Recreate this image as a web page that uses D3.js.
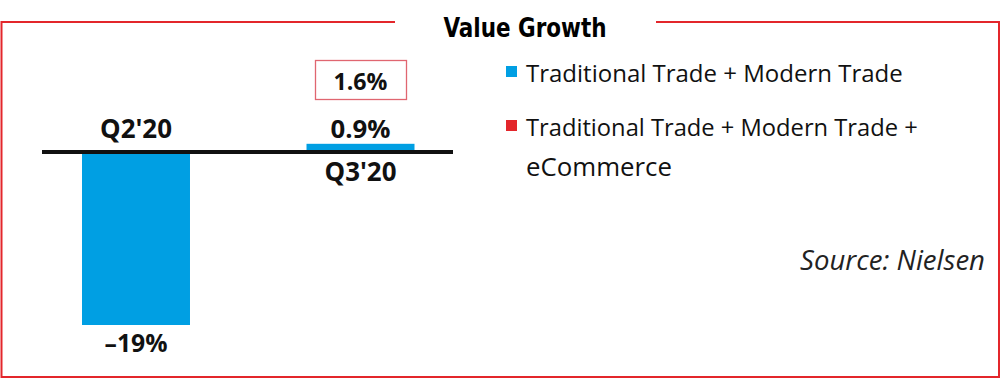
<!DOCTYPE html>
<html><head><meta charset="utf-8">
<script src="https://cdn.jsdelivr.net/npm/d3@7"></script>
<style>
html,body{margin:0;padding:0;background:#fff;}
text{font-family:"Open Sans","Noto Sans",sans-serif;}
</style></head>
<body>
<svg id="c" width="1002" height="379"></svg>
<script>
const categories = ["Q2'20", "Q3'20"];
const valuesTT_MT = [-19, 0.9];
const valuesWithEcom = [null, 1.6];
const valueLabels = ["\u201319%", "0.9%"];
const ecomLabels = [null, "1.6%"];
const legendLabels = [["Traditional Trade + Modern Trade"], ["Traditional Trade + Modern Trade +", "eCommerce"]];
const title = "Value Growth";
const source = "Source: Nielsen";

const blue = "#009FE3", red = "#E3262B";
const svg = d3.select("#c");

// fit helper
function fit(sel, target, base) {
  sel.each(function(){ const w=this.getComputedTextLength(); d3.select(this).style("font-size", (base*target/w)+"px"); });
}

// frame
svg.append("path")
  .attr("d", "M395,22 H1.5 V377 H999 V22 H656")
  .attr("fill","none").attr("stroke", red).attr("stroke-width", 2);

svg.append("text").text(title)
  .attr("x", 525).attr("y", 37).attr("text-anchor","middle")
  .style("font-family", '"Liberation Sans Narrow","DejaVu Sans Condensed",sans-serif')
  .style("font-weight","bold").style("font-size","26px")
  .attr("textLength", 163).attr("lengthAdjust","spacingAndGlyphs");

const x = d3.scaleBand().domain(categories).range([82, 414.5]).paddingInner(0.519).paddingOuter(0);
const y = d3.scaleLinear().domain([-19, 0]).range([325, 152]);

svg.selectAll("rect.bar").data(categories).join("rect")
  .attr("class","bar")
  .attr("x", d => x(d))
  .attr("width", x.bandwidth())
  .attr("y", (d,i) => Math.min(y(valuesTT_MT[i]), y(0)))
  .attr("height", (d,i) => Math.abs(y(valuesTT_MT[i]) - y(0)))
  .attr("fill", blue);

// baseline
svg.append("line").attr("x1", 42).attr("x2", 453).attr("y1", y(0)).attr("y2", y(0))
  .attr("stroke","#111").attr("stroke-width", 4);

const cx = categories.map(d => x(d) + x.bandwidth()/2);
const bold = sel => sel.style("font-weight","bold").style("font-size","25px").attr("text-anchor","middle").attr("fill","#111");

// category labels
svg.append("text").text(categories[0]).attr("x", cx[0]).attr("y", 138).call(bold).call(fit, 72, 25);
svg.append("text").text(categories[1]).attr("x", cx[1]).attr("y", 181).call(bold).call(fit, 72, 25);
// value labels
svg.append("text").text(valueLabels[0]).attr("x", cx[0]).attr("y", 352).call(bold).call(fit, 63, 25);
svg.append("text").text(valueLabels[1]).attr("x", cx[1]).attr("y", 138).call(bold).call(fit, 60, 25);

// ecom box
svg.append("rect").attr("x", 315.5).attr("y", 60.5).attr("width", 91).attr("height", 39)
  .attr("fill","none").attr("stroke","#E06670").attr("stroke-width",1.3);
svg.append("text").text(ecomLabels[1]).attr("x", cx[1]).attr("y", 90).call(bold).call(fit, 54, 25);

// legend
const legColors = [blue, red];
const legY = [82, 136];
const legW = [[377], [392, 146]];
legendLabels.forEach((lines, i) => {
  svg.append("rect").attr("x", 506).attr("y", legY[i]-16).attr("width", 11).attr("height", 11).attr("fill", legColors[i]);
  lines.forEach((ln, j) => {
    svg.append("text").text(ln).attr("x", 526).attr("y", legY[i] + j*40)
      .style("font-size","23px").attr("fill","#111").call(fit, legW[i][j], 23);
  });
});

svg.append("text").text(source).attr("x", 985).attr("y", 270).attr("text-anchor","end")
  .style("font-style","italic").style("font-size","23px").attr("fill","#222").call(fit, 185, 23);
</script>
</body></html>
